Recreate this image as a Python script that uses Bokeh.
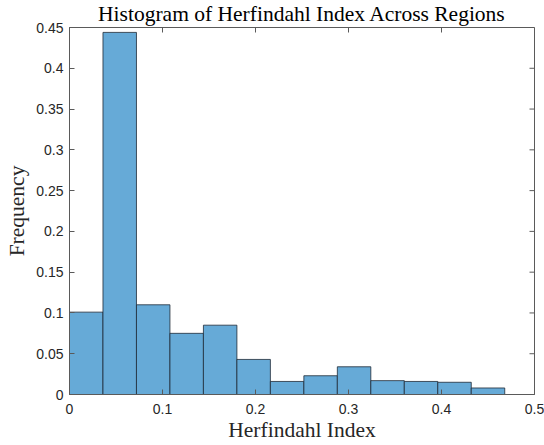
import numpy as np
from bokeh.plotting import figure
from bokeh.models import FixedTicker, Range1d, ColumnDataSource
from bokeh.embed import file_html
from bokeh.resources import INLINE

# ---- data ----
bin_left = [0.000, 0.036, 0.072, 0.108, 0.144, 0.180, 0.216, 0.252, 0.288, 0.324, 0.360, 0.396, 0.432]
bin_right = [0.036, 0.072, 0.108, 0.144, 0.180, 0.216, 0.252, 0.288, 0.324, 0.360, 0.396, 0.432, 0.468]
frequency = [0.101, 0.444, 0.110, 0.075, 0.085, 0.043, 0.016, 0.023, 0.034, 0.017, 0.016, 0.015, 0.008]

x_ticks = [0, 0.1, 0.2, 0.3, 0.4, 0.5]
x_tick_labels = ["0", "0.1", "0.2", "0.3", "0.4", "0.5"]
y_ticks = [0, 0.05, 0.1, 0.15, 0.2, 0.25, 0.3, 0.35, 0.4, 0.45]
y_tick_labels = ["0", "0.05", "0.1", "0.15", "0.2", "0.25", "0.3", "0.35", "0.4", "0.45"]

title_text = "Histogram of Herfindahl Index Across Regions"
x_label = "Herfindahl Index"
y_label = "Frequency"

SERIF = "Liberation Serif"
SANS = "Liberation Sans"
AXIS_COLOR = "#5a5a5a"
X_MAX = x_ticks[-1]
Y_MAX = y_ticks[-1]

src = ColumnDataSource(dict(left=bin_left, right=bin_right, top=frequency,
                            bottom=[0] * len(frequency)))

p = figure(width=544, height=445, x_range=Range1d(0, X_MAX), y_range=Range1d(0, Y_MAX),
           output_backend="svg", toolbar_location=None,
           min_border_left=69, min_border_right=10, min_border_top=27, min_border_bottom=51)

p.quad(left="left", right="right", top="top", bottom="bottom", source=src,
       fill_color="#66aad7", line_color="#1e2a36", line_width=0.8)

# mirrored inward ticks on the top and right edges of the box
p.ray(x=x_ticks, y=[Y_MAX] * len(x_ticks), length=5, length_units="screen",
      angle=-np.pi / 2, line_color=AXIS_COLOR, line_width=1)
p.ray(x=[X_MAX] * len(y_ticks), y=y_ticks, length=5, length_units="screen",
      angle=np.pi, line_color=AXIS_COLOR, line_width=1)

p.xgrid.visible = False
p.ygrid.visible = False
p.outline_line_color = AXIS_COLOR
p.outline_line_width = 1
p.background_fill_color = "white"
p.border_fill_color = "white"

p.title.text = title_text
p.title.align = "center"
p.title.vertical_align = "top"
p.title.text_font = SERIF
p.title.text_font_size = "21.5px"
p.title.text_font_style = "normal"
p.title.text_color = "black"
p.title.standoff = 0

def style_main(ax, ticks, labels, axis_label):
    ax.ticker = FixedTicker(ticks=ticks)
    ax.major_label_overrides = {t: l for t, l in zip(ticks, labels)}
    ax.minor_tick_line_color = None
    ax.major_tick_in = 5
    ax.major_tick_out = 0
    ax.major_tick_line_color = AXIS_COLOR
    ax.axis_line_color = AXIS_COLOR
    ax.major_label_text_font = SANS
    ax.major_label_text_font_size = "14px"
    ax.major_label_text_color = "#262626"
    ax.axis_label = axis_label
    ax.axis_label_text_font = SERIF
    ax.axis_label_text_font_size = "21.5px"
    ax.axis_label_text_font_style = "normal"
    ax.axis_label_text_color = "#262626"

style_main(p.xaxis[0], x_ticks, x_tick_labels, x_label)
style_main(p.yaxis[0], y_ticks, y_tick_labels, y_label)
p.xaxis[0].major_label_standoff = 9
p.xaxis[0].axis_label_standoff = 1
p.yaxis[0].major_label_standoff = 6
p.yaxis[0].axis_label_standoff = 4

open("out.html", "w").write(file_html(p, INLINE))
